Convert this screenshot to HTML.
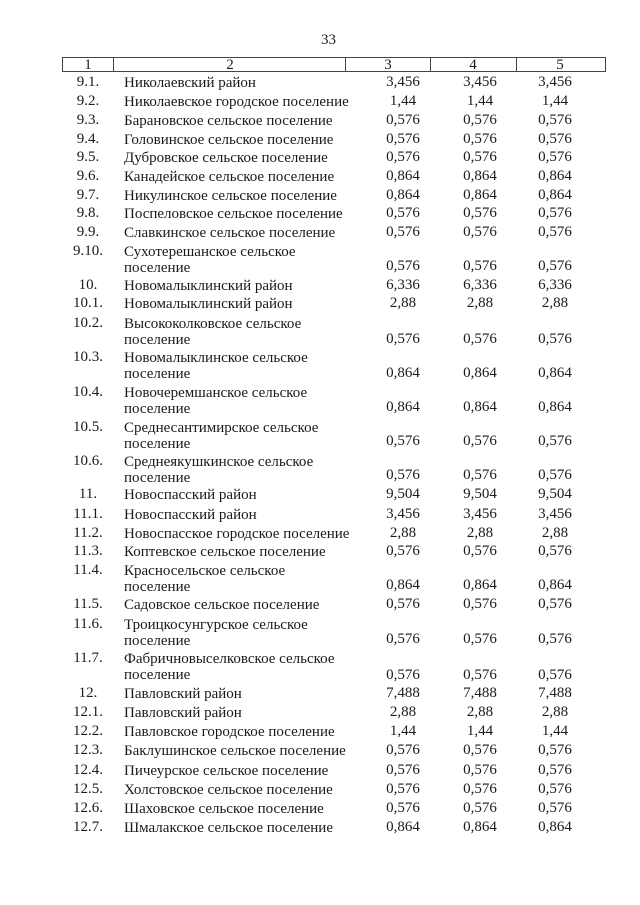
<!DOCTYPE html>
<html><head><meta charset="utf-8"><style>
body{margin:0;background:#fff;}
#p{position:relative;width:640px;height:905px;background:#fff;font-family:"Liberation Serif",serif;font-size:15px;color:#1a1a1a;overflow:hidden}
.t{position:absolute;white-space:nowrap;line-height:1}
.n{position:absolute;width:60px;text-align:center;line-height:1}
.v{position:absolute;width:70px;text-align:center;line-height:1}
.h{position:absolute;top:57px;height:15px;border:1px solid #444;box-sizing:border-box}
</style></head><body><div id="p">
<div class="t" style="left:321px;top:33px">33</div>
<div class="h" style="left:62px;width:544px"></div>
<div style="position:absolute;left:113px;top:57px;width:1px;height:15px;background:#444"></div>
<div style="position:absolute;left:345px;top:57px;width:1px;height:15px;background:#444"></div>
<div style="position:absolute;left:430px;top:57px;width:1px;height:15px;background:#444"></div>
<div style="position:absolute;left:516px;top:57px;width:1px;height:15px;background:#444"></div>
<div class="n" style="left:58px;top:58px">1</div>
<div class="n" style="left:200px;top:58px">2</div>
<div class="n" style="left:358px;top:58px">3</div>
<div class="n" style="left:443px;top:58px">4</div>
<div class="n" style="left:530px;top:58px">5</div>
<div id="rows"></div>
</div>
<script>
var R=[
["9.1.","Николаевский район",84,84,"3,456","3,456","3,456"],
["9.2.","Николаевское городское поселение",103,103,"1,44","1,44","1,44"],
["9.3.","Барановское сельское поселение",122,122,"0,576","0,576","0,576"],
["9.4.","Головинское сельское поселение",141,141,"0,576","0,576","0,576"],
["9.5.","Дубровское сельское поселение",159,159,"0,576","0,576","0,576"],
["9.6.","Канадейское сельское поселение",178,178,"0,864","0,864","0,864"],
["9.7.","Никулинское сельское поселение",197,197,"0,864","0,864","0,864"],
["9.8.","Поспеловское сельское поселение",215,215,"0,576","0,576","0,576"],
["9.9.","Славкинское сельское поселение",234,234,"0,576","0,576","0,576"],
["9.10.","Сухотерешанское сельское|поселение",253,268,"0,576","0,576","0,576"],
["10.","Новомалыклинский район",287,287,"6,336","6,336","6,336"],
["10.1.","Новомалыклинский район",305,305,"2,88","2,88","2,88"],
["10.2.","Высококолковское сельское|поселение",325,341,"0,576","0,576","0,576"],
["10.3.","Новомалыклинское сельское|поселение",359,375,"0,864","0,864","0,864"],
["10.4.","Новочеремшанское сельское|поселение",394,409,"0,864","0,864","0,864"],
["10.5.","Среднесантимирское сельское|поселение",429,443,"0,576","0,576","0,576"],
["10.6.","Среднеякушкинское сельское|поселение",463,477,"0,576","0,576","0,576"],
["11.","Новоспасский район",496,496,"9,504","9,504","9,504"],
["11.1.","Новоспасский район",516,516,"3,456","3,456","3,456"],
["11.2.","Новоспасское городское поселение",535,535,"2,88","2,88","2,88"],
["11.3.","Коптевское сельское поселение",553,553,"0,576","0,576","0,576"],
["11.4.","Красносельское сельское|поселение",572,587,"0,864","0,864","0,864"],
["11.5.","Садовское сельское поселение",606,606,"0,576","0,576","0,576"],
["11.6.","Троицкосунгурское сельское|поселение",626,641,"0,576","0,576","0,576"],
["11.7.","Фабричновыселковское сельское|поселение",660,677,"0,576","0,576","0,576"],
["12.","Павловский район",695,695,"7,488","7,488","7,488"],
["12.1.","Павловский район",714,714,"2,88","2,88","2,88"],
["12.2.","Павловское городское поселение",733,733,"1,44","1,44","1,44"],
["12.3.","Баклушинское сельское поселение",752,752,"0,576","0,576","0,576"],
["12.4.","Пичеурское сельское поселение",772,772,"0,576","0,576","0,576"],
["12.5.","Холстовское сельское поселение",791,791,"0,576","0,576","0,576"],
["12.6.","Шаховское сельское поселение",810,810,"0,576","0,576","0,576"],
["12.7.","Шмалакское сельское поселение",829,829,"0,864","0,864","0,864"]];
var h="";
R.forEach(function(r){
 var y=r[2]-8,vy=r[3]-8;
 h+='<div class="n" style="left:58px;top:'+(y-1)+'px">'+r[0]+'</div>';
 var p=r[1].split("|");
 h+='<div class="t" style="left:124px;top:'+y+'px">'+p[0]+'</div>';
 if(p[1])h+='<div class="t" style="left:124px;top:'+(y+16)+'px">'+p[1]+'</div>';
 h+='<div class="v" style="left:368px;top:'+(vy-1)+'px">'+r[4]+'</div>';
 h+='<div class="v" style="left:445px;top:'+(vy-1)+'px">'+r[5]+'</div>';
 h+='<div class="v" style="left:520px;top:'+(vy-1)+'px">'+r[6]+'</div>';
});
document.getElementById("rows").innerHTML=h;
</script>
</body></html>
